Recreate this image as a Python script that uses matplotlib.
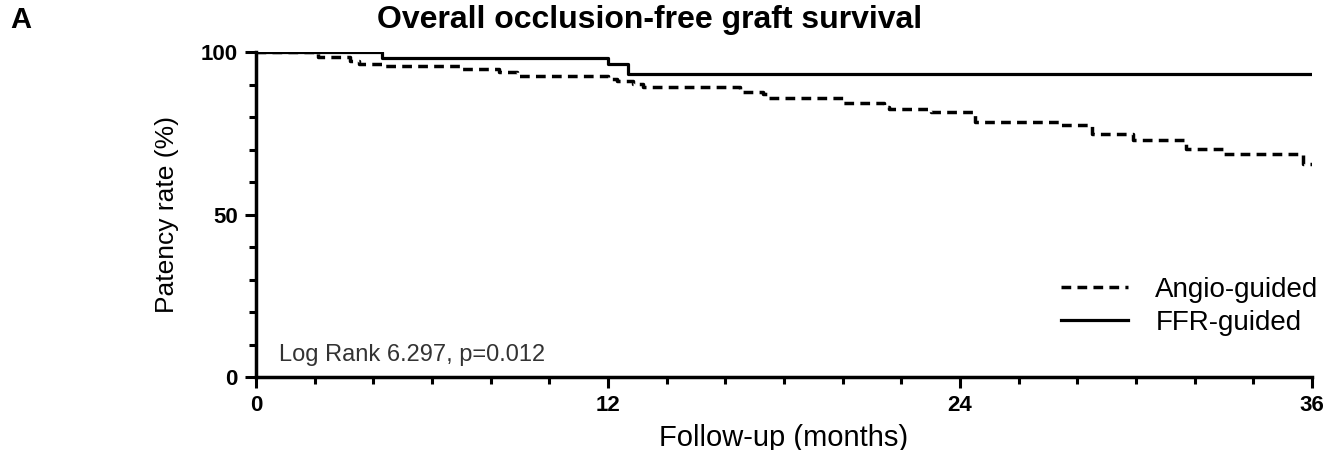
import matplotlib.pyplot as plt
import numpy as np
from matplotlib.ticker import MultipleLocator

plt.rcParams['font.family'] = ['Liberation Sans', 'DejaVu Sans']

# Kaplan-Meier steps (months, %)
angio_t = [0, 2.1, 3.2, 3.5, 4.3, 7.0, 8.3, 8.9, 12.0, 12.3, 12.85, 13.2, 16.5,
           17.3, 17.5, 20.0, 21.4, 21.6, 23.0, 24.5, 27.4, 28.5, 29.9, 31.7,
           33.0, 35.7, 36]
angio_s = [100, 98.4, 97.3, 96.3, 95.7, 94.8, 94.0, 92.6, 91.9, 91.2, 90.2, 89.2,
           87.8, 87.1, 86.0, 84.5, 83.2, 82.5, 81.6, 78.4, 77.7, 74.8, 73.1,
           70.2, 68.6, 65.5, 65.5]
ffr_t = [0, 4.3, 12.0, 12.7, 36]
ffr_s = [100, 98.3, 96.5, 93.3, 93.3]

labels = ['Angio-guided', 'FFR-guided']
stat_text = 'Log Rank 6.297, p=0.012'

fig = plt.figure(figsize=(13.4, 4.5), dpi=100)
ax = fig.add_axes([0.191, 0.162, 0.788, 0.722])

ax.plot(angio_t, angio_s, drawstyle='steps-post', color='black', lw=2.5,
        dashes=(2.8, 1.8), label=labels[0])
ax.plot(ffr_t, ffr_s, drawstyle='steps-post', color='black', lw=2.3,
        label=labels[1])

ax.set_xlim(0, 36)
ax.set_ylim(0, 100)
ax.set_xticks([0, 12, 24, 36])
ax.set_yticks([0, 50, 100])
ax.xaxis.set_minor_locator(MultipleLocator(2))
ax.yaxis.set_minor_locator(MultipleLocator(10))
for s in ['top', 'right']:
    ax.spines[s].set_visible(False)
for s in ['left', 'bottom']:
    ax.spines[s].set_linewidth(2.5)
ax.tick_params(which='both', direction='out')
ax.tick_params(which='major', length=8, width=2.2, labelsize=16, pad=5)
ax.tick_params(which='minor', length=5, width=2.2)
for lab in ax.get_xticklabels() + ax.get_yticklabels():
    lab.set_fontweight('bold')

ax.set_ylabel('Patency rate (%)', fontsize=19, labelpad=16)
ax.set_xlabel('Follow-up (months)', fontsize=21, labelpad=6)

ax.text(0.022, 0.035, stat_text, transform=ax.transAxes, fontsize=17,
        ha='left', va='bottom', color='#333333')

ax.legend(loc='lower right', bbox_to_anchor=(1.03, 0.05), frameon=False,
          fontsize=20, handlelength=2.4, handletextpad=1.0, labelspacing=0.25)

fig.text(0.485, 0.955, 'Overall occlusion-free graft survival', fontsize=23,
         fontweight='bold', ha='center', va='center')
fig.text(0.008, 0.955, 'A', fontsize=21, fontweight='bold', ha='left', va='center')

fig.savefig('out.png', dpi=100)
